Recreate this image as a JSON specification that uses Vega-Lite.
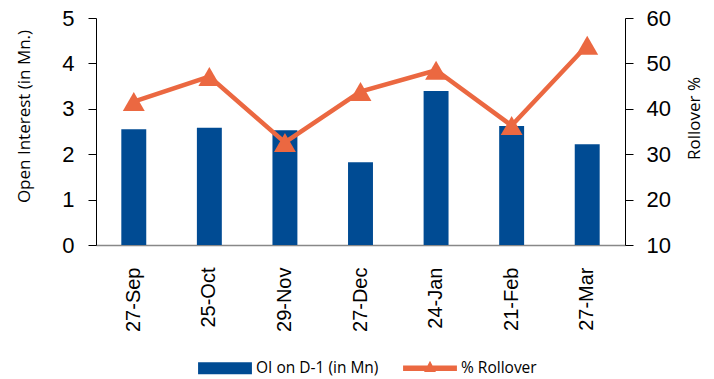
{
  "$schema": "https://vega.github.io/schema/vega-lite/v6.json",
  "width": 529,
  "height": 227,
  "autosize": {"type": "pad"},
  "padding": {"left": 15, "top": 7, "right": 2, "bottom": 2},
  "config": {
    "view": {"stroke": null},
    "font": "Liberation Sans",
    "axis": {"grid": false, "labelColor": "black", "titleColor": "black", "titleFontWeight": "normal", "titleFont": "Open Sans", "labelFont": "Liberation Sans"}
  },
  "data": {
    "values": [
      {"date": "27-Sep", "oi": 2.55, "rollover": 41.6},
      {"date": "25-Oct", "oi": 2.58, "rollover": 47.1},
      {"date": "29-Nov", "oi": 2.53, "rollover": 32.6},
      {"date": "27-Dec", "oi": 1.82, "rollover": 43.8},
      {"date": "24-Jan", "oi": 3.39, "rollover": 48.5},
      {"date": "21-Feb", "oi": 2.62, "rollover": 36.3},
      {"date": "27-Mar", "oi": 2.22, "rollover": 54.0}
    ]
  },
  "encoding": {
    "x": {
      "field": "date", "type": "nominal", "sort": null,
      "scale": {"paddingInner": 0.67, "paddingOuter": 0.335},
      "axis": {"title": null, "labelAngle": -90, "labelFontSize": 20, "ticks": false, "domainColor": "#888888", "domainWidth": 1.5, "labelPadding": 22}
    }
  },
  "layer": [
    {
      "mark": {"type": "bar", "color": "#004B93"},
      "encoding": {
        "y": {
          "field": "oi", "type": "quantitative",
          "scale": {"domain": [0, 5], "nice": false},
          "axis": {"title": "Open Interest (in Mn.)", "titleY": 98, "values": [0, 1, 2, 3, 4, 5], "labelFontSize": 22, "titleFontSize": 17, "domainColor": "black", "tickColor": "black", "tickSize": 8, "labelPadding": 14, "titlePadding": 28}
        },
        "color": {
          "datum": "OI on D-1 (in Mn)",
          "scale": {"domain": ["OI on D-1 (in Mn)", "% Rollover"], "range": ["#004B93", "#EB6841"]},
          "legend": {
            "title": null, "orient": "none", "direction": "horizontal", "legendX": 102, "legendY": 323,
            "labelFont": "Open Sans", "labelFontSize": 15.5, "labelColor": "black", "symbolSize": 2900, "columnPadding": 24, "labelOffset": 4,
            "encode": {
              "symbols": {
                "update": {
                  "shape": {"signal": "datum.value === '% Rollover' ? 'M-1,-0.1H1V0.1H-1Z M-0.22,0.14L0,-0.28L0.22,0.14Z' : 'M-1,-0.22H1V0.22H-1Z'"},
                  "fill": {"signal": "datum.value === '% Rollover' ? '#EB6841' : '#004B93'"},
                  "strokeWidth": {"value": 0},
                  "opacity": {"value": 1}
                }
              }
            }
          }
        }
      }
    },
    {
      "mark": {"type": "line", "strokeWidth": 4.5},
      "encoding": {
        "y": {
          "field": "rollover", "type": "quantitative",
          "scale": {"domain": [10, 60], "nice": false},
          "axis": {"orient": "right", "title": "Rollover %", "titleY": 100, "values": [10, 20, 30, 40, 50, 60], "labelFontSize": 22, "titleFontSize": 17, "titleAngle": 270, "titleBaseline": "top", "domainColor": "black", "tickColor": "black", "tickSize": 8, "labelPadding": 13, "titlePadding": 16}
        },
        "color": {"datum": "% Rollover"}
      }
    },
    {
      "mark": {"type": "point", "shape": "triangle-up", "filled": true, "opacity": 1, "size": 480, "color": "#EB6841"},
      "encoding": {
        "y": {"field": "rollover", "type": "quantitative", "scale": {"domain": [10, 60], "nice": false}, "axis": null}
      }
    }
  ],
  "resolve": {"scale": {"y": "independent"}}
}
